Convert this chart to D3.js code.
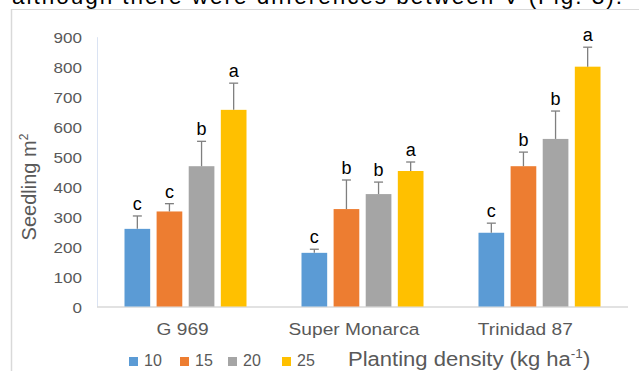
<!DOCTYPE html>
<html>
<head>
<meta charset="utf-8">
<script src="https://cdn.jsdelivr.net/npm/d3@7"></script>
<style>
  body { margin: 0; background: #fff; }
  text { font-family: "Liberation Sans", Arial, sans-serif; }
</style>
</head>
<body>
<div id="chart"></div>
<script>
// cultivars and planting densities
const cultivars = ["G 969", "Super Monarca", "Trinidad 87"];
const densities = ["10", "15", "20", "25"];
const colors = ["#5b9bd5", "#ed7d31", "#a5a5a5", "#ffc000"];

// seedlings per m2, rows = cultivars, cols = densities
const means = [
    [259, 317, 468, 656],
    [179, 325, 375, 452],
    [246, 468, 559, 800]
];
const errors = [
    [43, 26, 83, 89],
    [12, 97, 40, 30],
    [32, 47, 93, 65]
];
const letters = [
    ["c", "c", "b", "a"],
    ["c", "b", "b", "a"],
    ["c", "b", "b", "a"]
];
const yTicks = [0, 100, 200, 300, 400, 500, 600, 700, 800, 900];

const width = 639, height = 371;
const svg = d3.select("#chart").append("svg")
    .attr("width", width)
    .attr("height", height);

// the picture is a bit wider than tall, so text gets stretched sideways
function placeText(sel, x, y, sx) {
    sel.attr("transform", (d, i) => {
        const px = typeof x === "function" ? x(d, i) : x;
        const py = typeof y === "function" ? y(d, i) : y;
        return `translate(${px},${py}) scale(${sx},1)`;
    });
}

// cut-off sentence from the page above the figure
svg.append("text")
    .attr("x", 12).attr("y", 4)
    .attr("font-size", 22.5)
    .attr("fill", "#000")
    .attr("textLength", 610)
    .text("although there were differences between V (Fig. 3).");

// figure frame
svg.append("rect").attr("x", 0).attr("y", 9).attr("width", width).attr("height", height)
    .attr("fill", "#fff");
svg.append("line").attr("x1", 11).attr("x2", width).attr("y1", 9.5).attr("y2", 9.5)
    .attr("stroke", "#d9d9d9");
svg.append("line").attr("x1", 11.5).attr("x2", 11.5).attr("y1", 9).attr("y2", height)
    .attr("stroke", "#d9d9d9").attr("stroke-width", 1.5);

const plotLeft = 97, plotRight = 628, plotTop = 36.7, plotBottom = 306.5;

const x0 = d3.scaleBand().domain(cultivars).range([plotLeft, plotRight]);
const x1 = d3.scaleBand().domain(densities)
    .range([0, 122]).paddingInner(0.2).paddingOuter(0);
const xLab = d3.scaleBand().domain(cultivars).range([plotLeft, plotLeft + 531 * 0.968]);
const y = d3.scaleLinear().domain([0, 900]).range([plotBottom, plotTop]);

const groupOffset = (x0.bandwidth() - 122) / 2;

// y axis
const yAxis = svg.append("g")
    .attr("transform", `translate(${plotLeft},0)`)
    .call(d3.axisLeft(y).tickValues(yTicks).tickSize(0).tickPadding(15));
yAxis.select(".domain").attr("stroke", "#dae3f3");
yAxis.selectAll(".tick text")
    .attr("x", 0).attr("dy", null).attr("y", 5.5)
    .attr("font-size", 15.5).attr("fill", "#595959")
    .attr("font-family", "Liberation Sans, Arial, sans-serif")
    .attr("transform", "translate(-15,0) scale(1.1,1)");

// baseline
svg.append("line").attr("x1", plotLeft).attr("x2", plotRight)
    .attr("y1", plotBottom + 0.5).attr("y2", plotBottom + 0.5)
    .attr("stroke", "#d9d9d9").attr("stroke-width", 1.5);

// bars
const groups = svg.selectAll(".grp")
    .data(cultivars)
    .enter().append("g")
    .attr("class", "grp")
    .attr("transform", d => `translate(${x0(d) + groupOffset},0)`);

groups.each(function (c, ci) {
    const g = d3.select(this);
    const rows = densities.map((d, di) => ({
        d: d, v: means[ci][di], e: errors[ci][di], l: letters[ci][di], col: colors[di]
    }));

    g.selectAll("rect").data(rows).enter().append("rect")
        .attr("x", r => x1(r.d))
        .attr("y", r => y(r.v))
        .attr("width", x1.bandwidth())
        .attr("height", r => y(0) - y(r.v))
        .attr("fill", r => r.col);

    // error bars (upper only)
    g.selectAll(".err").data(rows).enter().append("line")
        .attr("class", "err")
        .attr("x1", r => x1(r.d) + x1.bandwidth() / 2)
        .attr("x2", r => x1(r.d) + x1.bandwidth() / 2)
        .attr("y1", r => y(r.v))
        .attr("y2", r => y(r.v + r.e))
        .attr("stroke", "#7f7f7f").attr("stroke-width", 1.3);
    g.selectAll(".cap").data(rows).enter().append("line")
        .attr("class", "cap")
        .attr("x1", r => x1(r.d) + x1.bandwidth() / 2 - 4.5)
        .attr("x2", r => x1(r.d) + x1.bandwidth() / 2 + 4.5)
        .attr("y1", r => y(r.v + r.e))
        .attr("y2", r => y(r.v + r.e))
        .attr("stroke", "#7f7f7f").attr("stroke-width", 1.3);

    // significance letters
    g.selectAll(".lab").data(rows).enter().append("text")
        .attr("class", "lab")
        .attr("x", r => x1(r.d) + x1.bandwidth() / 2)
        .attr("y", r => y(r.v + r.e) - 6)
        .attr("text-anchor", "middle")
        .attr("font-size", 18)
        .attr("fill", "#000")
        .text(r => r.l);
});

// category labels
const cats = svg.selectAll(".cat")
    .data(cultivars)
    .enter().append("text")
    .attr("class", "cat")
    .attr("text-anchor", "middle")
    .attr("font-size", 16.5)
    .attr("fill", "#595959")
    .text(d => d);
placeText(cats, d => xLab(d) + xLab.bandwidth() / 2, 335, 1.16);

// y axis title
svg.append("text")
    .attr("transform", "translate(36,187) rotate(-90)")
    .attr("text-anchor", "middle")
    .attr("font-size", 20)
    .attr("fill", "#595959")
    .html('Seedling m<tspan dy="-8" font-size="12">2</tspan>');

// legend
const legendX = [129, 180, 228, 282];
const legend = svg.selectAll(".leg")
    .data(densities)
    .enter().append("g")
    .attr("class", "leg")
    .attr("transform", (d, i) => `translate(${legendX[i]},357)`);
legend.append("rect")
    .attr("width", 9).attr("height", 9)
    .attr("fill", (d, i) => colors[i]);
legend.append("text")
    .attr("x", 15).attr("y", 8.5)
    .attr("font-size", 16)
    .attr("fill", "#595959")
    .text(d => d);

const legTitle = svg.append("text")
    .attr("font-size", 19.5)
    .attr("fill", "#595959")
    .html('Planting density (kg ha<tspan dy="-8" font-size="12">-1</tspan><tspan dy="8">)</tspan>');
placeText(legTitle, 348, 365.5, 1.13);
</script>
</body>
</html>
